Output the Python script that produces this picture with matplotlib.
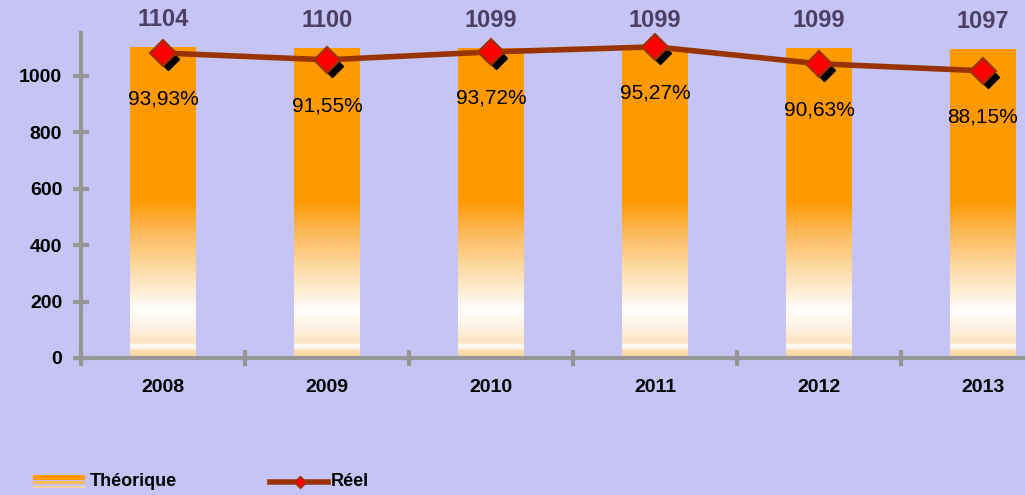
import matplotlib
matplotlib.use("Agg")
import matplotlib.pyplot as plt
import matplotlib.transforms as mtransforms
from matplotlib.colors import LinearSegmentedColormap
from matplotlib.patches import Rectangle
from matplotlib.lines import Line2D
import numpy as np

# data
years = ["2008", "2009", "2010", "2011", "2012", "2013"]
theorique = [1104, 1100, 1099, 1099, 1099, 1097]
reel = [1081, 1057, 1085, 1103, 1043, 1018]
taux = ["93,93%", "91,55%", "93,72%", "95,27%", "90,63%", "88,15%"]
yticks = [0, 200, 400, 600, 800, 1000]

bg = "#C6C4F4"
axis_grey = "#969696"
line_col = "#993300"

plt.rcParams['font.family'] = ['Liberation Sans', 'DejaVu Sans']

fig = plt.figure(figsize=(10.25, 4.95), dpi=100)
fig.patch.set_facecolor(bg)
W, H = 1025, 495
ax = fig.add_axes([81 / W, 1 - 358 / H, 1 - 81 / W, (358 - 33) / H])
ax.set_facecolor(bg)

x = np.arange(len(years))
bar_w = 0.4

# gradient for the bars (fraction from bottom -> colour)
stops = [(0.0, "#FCD9A4"), (0.019, "#FCDCAC"), (0.035, "#FFFFFF"), (0.048, "#FDE4C0"),
         (0.08, "#FEEDD8"), (0.154, "#FFFFFF"), (0.186, "#FFF4E6"), (0.293, "#FDD9A0"),
         (0.402, "#FDB95A"), (0.508, "#FF9900"), (1.0, "#FF9900")]
cmap = LinearSegmentedColormap.from_list("bar", stops)
grad = np.linspace(0, 1, 400).reshape(-1, 1)

bars = ax.bar(x, theorique, bar_w, color="none", edgecolor="none", zorder=2)
for b in bars:
    x0 = b.get_x()
    h = b.get_height()
    im = ax.imshow(grad, cmap=cmap, origin="lower", aspect="auto",
                   extent=[x0, x0 + bar_w, 0, h], zorder=2)
    im.set_clip_path(b)

# value labels above bars
for xi, v in zip(x, theorique):
    ax.annotate(str(v), (xi, v), xytext=(0, 19.5), textcoords="offset points",
                ha="center", va="center", fontsize=17, fontweight="bold",
                color="#4B3F63", annotation_clip=False)

# line with shadowed markers
shadow = mtransforms.offset_copy(ax.transData, fig=fig, x=5, y=-6, units="dots")
ax.plot(x, reel, linestyle="none", marker="D", markersize=11, color="black",
        transform=shadow, zorder=3)
ax.plot(x, reel, color=line_col, linewidth=4, marker="D", markersize=13,
        markerfacecolor="#FF0000", markeredgecolor=line_col, markeredgewidth=1.5, zorder=4)

for xi, v, t in zip(x, reel, taux):
    ax.annotate(t, (xi, v), xytext=(0, -33), textcoords="offset points",
                ha="center", va="center", fontsize=15, color="black")

ax.set_yticks(yticks)
ax.set_xticks(x)
ax.set_xticklabels(years)
ax.set_xticks(np.arange(-0.5, 6, 1), minor=True)
ax.set_xlim(-0.5, -0.5 + (W - 81) / 164)
ax.set_ylim(0, 1152)

for s in ["top", "right"]:
    ax.spines[s].set_visible(False)
for s in ["left", "bottom"]:
    ax.spines[s].set_color(axis_grey)
    ax.spines[s].set_linewidth(3)

ax.tick_params(axis="y", direction="inout", length=11, width=3, color=axis_grey,
               labelsize=14, pad=8)
ax.tick_params(axis="x", which="major", length=0, labelsize=14, pad=15)
ax.tick_params(axis="x", which="minor", direction="inout", length=11, width=3, color=axis_grey)
for lab in ax.get_xticklabels() + ax.get_yticklabels():
    lab.set_fontweight("bold")

# legend drawn by hand at the bottom
fig.add_artist(Rectangle((33 / W, 1 - 480 / H), 52 / W, 5 / H, transform=fig.transFigure,
                         color="#FF9900", lw=0))
fig.add_artist(Rectangle((33 / W, 1 - 484 / H), 52 / W, 3 / H, transform=fig.transFigure,
                         color="#FDB95A", lw=0))
fig.add_artist(Rectangle((33 / W, 1 - 488 / H), 52 / W, 2 / H, transform=fig.transFigure,
                         color="#FDD9A0", lw=0))
fig.text(90 / W, 1 - 481 / H, "Théorique", fontsize=13, fontweight="bold", va="center")
fig.add_artist(Line2D([270 / W, 328 / W], [1 - 482 / H] * 2, transform=fig.transFigure,
                      color=line_col, linewidth=4))
fig.add_artist(Line2D([300 / W], [1 - 482 / H], transform=fig.transFigure, marker="D",
                      markersize=6, color="#FF0000", markeredgecolor=line_col))
fig.text(331 / W, 1 - 481 / H, "Réel", fontsize=13, fontweight="bold", va="center")

fig.savefig("out.png", dpi=100, facecolor=bg)
